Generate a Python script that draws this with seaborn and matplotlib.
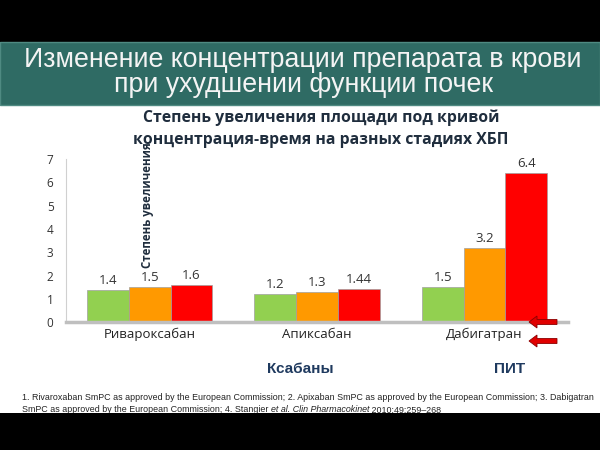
import pandas as pd
import seaborn as sns
import matplotlib.pyplot as plt
from matplotlib.patches import Rectangle, FancyArrow

# данные: степень увеличения AUC по стадиям ХБП
drugs = ['Ривароксабан', 'Апиксабан', 'Дабигатран']
stages = ['Лёгкая', 'Умеренная', 'Тяжёлая']
mild = [1.4, 1.2, 1.5]
moderate = [1.5, 1.3, 3.2]
severe = [1.6, 1.44, 6.4]
value_labels = [['1.4', '1.2', '1.5'], ['1.5', '1.3', '3.2'], ['1.6', '1.44', '6.4']]
bar_colors = ['#92d050', '#ff9900', '#ff0000']

df = pd.DataFrame({
    'drug': drugs * 3,
    'stage': [stages[0]] * 3 + [stages[1]] * 3 + [stages[2]] * 3,
    'value': mild + moderate + severe,
})

sns.set_theme(style='white')
plt.rcParams['font.family'] = ['Open Sans', 'DejaVu Sans']
arial = ['Liberation Sans', 'DejaVu Sans']

fig = plt.figure(figsize=(6, 4.5), dpi=100)

# фон слайда: чёрные полосы и зелёная шапка
fig.patches.append(Rectangle((0, 1 - 42 / 450), 1, 42 / 450, transform=fig.transFigure,
                             facecolor='black', edgecolor='none', zorder=0))
fig.patches.append(Rectangle((0, 1 - 105 / 450), 1, 63 / 450, transform=fig.transFigure,
                             facecolor='#2f6b64', edgecolor='#4f8a82', lw=1, zorder=0))
fig.patches.append(Rectangle((0, 0), 1, 37 / 450, transform=fig.transFigure,
                             facecolor='black', edgecolor='none', zorder=5))

fig.text(0.505, 1 - 60 / 450, 'Изменение концентрации препарата в крови',
         ha='center', va='center', color='#f4f4f4', fontsize=19.3, family=arial)
fig.text(0.505, 1 - 85 / 450, 'при ухудшении функции почек',
         ha='center', va='center', color='#f4f4f4', fontsize=19.3, family=arial)

ax = fig.add_axes([0.11, 0.284, 0.837, 0.363])
sns.barplot(data=df, x='drug', y='value', hue='stage', palette=bar_colors,
            saturation=1, width=0.75, gap=0, edgecolor='#a0a0a0', linewidth=0.5,
            legend=False, ax=ax)

for cont, labs in zip(ax.containers, value_labels):
    ax.bar_label(cont, labels=labs, padding=2, fontsize=9.5, color='#333333')

ax.set_ylim(0, 7)
ax.set_xlim(-0.5, 2.5)
ax.set_yticks(range(0, 8))
ax.tick_params(axis='y', labelsize=8.5, colors='#333333', length=0, pad=9)
ax.tick_params(axis='x', labelsize=9.5, colors='#222222', length=0, pad=4)
ax.set_xlabel('')
ax.set_ylabel('')
for s in ['top', 'right']:
    ax.spines[s].set_visible(False)
ax.spines['left'].set_color('#d0d0d0')
ax.spines['left'].set_linewidth(0.8)
ax.spines['bottom'].set_color('#bfbfbf')
ax.spines['bottom'].set_linewidth(2.5)

# заголовок диаграммы
fig.text(0.535, 1 - 118 / 450, 'Степень увеличения площади под кривой',
         ha='center', va='center', fontsize=11.3, fontweight='bold', color='#1f2d3d')
fig.text(0.535, 1 - 140 / 450, 'концентрация-время на разных стадиях ХБП',
         ha='center', va='center', fontsize=11.3, fontweight='bold', color='#1f2d3d')
fig.text(148 / 600, 1 - 268 / 450, 'Степень увеличения', rotation=90,
         ha='center', va='bottom', fontsize=8.3, fontweight='bold', color='#1f2d3d')

# красные стрелки
for yp in [322, 341]:
    fig.patches.append(FancyArrow(557 / 600, 1 - yp / 450, -28 / 600, 0,
                                  width=5 / 450, head_width=12 / 450, head_length=8 / 600,
                                  length_includes_head=True, transform=fig.transFigure,
                                  facecolor='#e00000', edgecolor='#8b0000', lw=0.6))

fig.text(300 / 600, 1 - 369 / 450, 'Ксабаны', ha='center', va='center',
         fontsize=11, fontweight='bold', color='#1f3a5f', family=arial)
fig.text(510 / 600, 1 - 369 / 450, 'ПИТ', ha='center', va='center',
         fontsize=11, fontweight='bold', color='#1f3a5f', family=arial)

# ссылки внизу
fn = 6.4
fig.text(22 / 600, 1 - 398 / 450,
         '1. Rivaroxaban SmPC as approved by the European Commission; 2. Apixaban SmPC as approved by the European Commission; 3. Dabigatran',
         ha='left', va='center', fontsize=fn, color='#222222', family=arial)
parts = [('SmPC as approved by the European Commission; 4. Stangier ', 'normal'),
         ('et al. Clin Pharmacokinet', 'italic'),
         (' 2010;49:259\u2013268', 'normal')]
fig.canvas.draw()
r = fig.canvas.get_renderer()
xp = 22
for txt, st in parts:
    t = fig.text(xp / 600, 1 - 410 / 450, txt, ha='left', va='center', fontsize=fn,
                 style=st, color='#222222', family=arial)
    xp += t.get_window_extent(renderer=r).width

fig.savefig('out.png', dpi=100)
